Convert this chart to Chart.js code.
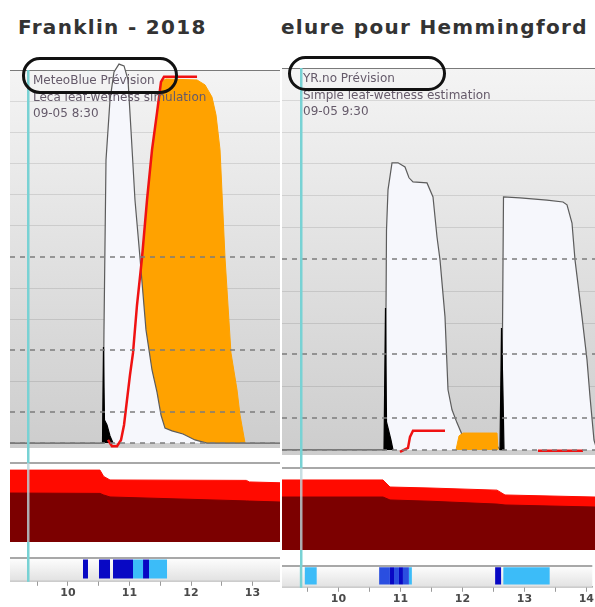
<!DOCTYPE html>
<html>
<head>
<meta charset="utf-8">
<script src="https://cdn.jsdelivr.net/npm/chart.js@4.4.0/dist/chart.umd.min.js"></script>
<style>
  html, body { margin: 0; padding: 0; background: #fff; width: 595px; height: 607px; overflow: hidden; }
  canvas { position: absolute; display: block; }
  .title { position: absolute; top: 15px; font: bold 20px "DejaVu Sans", sans-serif; letter-spacing: 1.3px; color: #333; white-space: pre; }
  .note { position: absolute; font: 12px/16.5px "DejaVu Sans", sans-serif; color: #655a6a; white-space: nowrap; }
  .ring { position: absolute; border: 3px solid #111; border-radius: 18px; box-sizing: border-box; }
</style>
</head>
<body>
<canvas id="frMain"></canvas>
<canvas id="frBand"></canvas>
<canvas id="frStrip"></canvas>
<canvas id="rtMain"></canvas>
<canvas id="rtBand"></canvas>
<canvas id="rtStrip"></canvas>

<div class="title" style="left:18px">Franklin - 2018</div>
<div class="title" style="left:281px">elure pour Hemmingford</div>

<div class="note" style="left:33px;top:72px">MeteoBlue Prévision<br>Leca leaf-wetness simulation<br>09-05 8:30</div>
<div class="note" style="left:303px;top:70px">YR.no Prévision<br>Simple leaf-wetness estimation<br>09-05 9:30</div>
<div class="ring" style="left:22px;top:57px;width:156px;height:37px"></div>
<div class="ring" style="left:288px;top:56px;width:158px;height:35px"></div>

<script>
// ---- axis ----
const dayTicks = [10, 11, 12, 13, 14];

// ---- Franklin (MeteoBlue) ----
const frRange = [9.057, 13.447];
const frNow = 9.354; // 09-05 8:30
const frWetT = [9.057, 10.569, 10.585, 10.618, 10.683, 10.748, 10.829, 10.911, 10.976, 11.024, 11.089, 11.171, 11.268, 11.366, 11.447, 11.512, 11.577, 11.691, 11.870, 12.065, 12.260, 13.447];
const frWetV = [0, 0, 3.64, 9.11, 11.04, 11.94, 12.19, 12.13, 11.68, 10.07, 7.82, 5.95, 3.64, 2.35, 1.64, 0.90, 0.48, 0.39, 0.29, 0.10, 0, 0];
const frSimT = [10.862, 10.911, 10.959, 11.008, 11.057, 11.122, 11.203, 11.285, 11.366, 11.447, 11.512, 11.593, 12.098, 12.228, 12.341, 12.407, 12.472, 12.553, 12.650, 12.748, 12.797, 12.878];
const frSimV = [0, 0.58, 1.38, 2.19, 2.90, 4.44, 5.95, 7.82, 9.43, 10.62, 11.62, 11.71, 11.68, 11.52, 11.13, 10.55, 9.43, 5.95, 2.90, 1.71, 0.90, 0];
const frRedT = [10.650, 10.715, 10.797, 10.862, 10.911, 10.959, 11.008, 11.057, 11.122, 11.203, 11.285, 11.366, 11.447, 11.512, 11.561, 12.098];
const frRedV = [0.10, -0.10, -0.10, 0.10, 0.58, 1.38, 2.19, 2.90, 4.44, 5.95, 7.82, 9.43, 10.62, 11.62, 11.78, 11.78];
const frRainT = [10.561, 10.577, 10.593, 10.634, 10.683, 10.732];
const frRainV = [0, 3.09, 0.74, 0.58, 0.23, 0];
const frBandT = [9.057, 10.52, 10.58, 10.683, 12.9, 12.95, 13.447];
const frBandRed = [91, 91, 83, 78.5, 78, 76, 75];
const frBandDark = [62, 61.5, 59.5, 57, 52, 51.8, 50.6];
const frStripStart = [10.244, 10.504, 10.732, 11.057, 11.220, 11.317];
const frStripEnd = [10.325, 10.683, 11.057, 11.220, 11.317, 11.610];
const frStripLevel = [3, 3, 3, 1, 3, 1];

// ---- Hemmingford (YR.no) ----
const rtRange = [9.088, 14.096];
const rtNow = 9.396; // 09-05 9:30
const rtWetT = [9.088, 10.728, 10.744, 10.760, 10.784, 10.848, 10.944, 11.056, 11.120, 11.184, 11.408, 11.504, 11.568, 11.616, 11.696, 11.744, 11.808, 11.888, 11.984, 12.096, 12.336, 12.544, 12.576, 12.600, 12.616, 12.632, 12.896, 13.328, 13.584, 13.648, 13.728, 13.776, 13.888, 13.968, 14.016, 14.080, 14.128];
const rtWetV = [0, 0, 1.89, 6.91, 8.17, 9.02, 9.02, 8.89, 8.55, 8.42, 8.39, 7.95, 6.69, 5.97, 4.18, 1.89, 1.26, 0.85, 0.41, 0.16, 0.09, 0.09, 0, 0, 3.77, 7.95, 7.92, 7.85, 7.79, 7.70, 7.13, 5.97, 4.18, 2.83, 1.67, 0.31, 0];
const rtSimT = [11.872, 11.920, 11.984, 12.528, 12.544];
const rtSimV = [0, 0.44, 0.53, 0.53, 0];
const rtRedT = [10.976, 11.104, 11.136, 11.184, 11.696, 12.0, 13.184, 13.904];
const rtRedV = [-0.06, 0.06, 0.41, 0.60, 0.60, null, -0.03, -0.03];
const rtRainT = [10.720, 10.744, 10.760, 10.784, 10.832, 10.864, 12.0, 12.576, 12.600, 12.624, 12.640];
const rtRainV = [0, 4.46, 0.88, 0.69, 0.31, 0, null, 0, 3.83, 1.73, 0];
const rtBandT = [9.088, 10.704, 10.816, 11.456, 12.528, 12.656, 14.096];
const rtBandRed = [85.4, 85.4, 76.8, 75.6, 73, 67.1, 64.6];
const rtBandDark = [64.6, 64.6, 61, 59.5, 56, 54.9, 52.4];
const rtStripStart = [9.456, 10.656, 10.830, 10.896, 10.976, 11.040, 11.136, 12.528, 12.660];
const rtStripEnd = [9.648, 10.830, 10.896, 10.976, 11.040, 11.136, 11.184, 12.624, 13.408];
const rtStripLevel = [1, 2, 3, 2, 3, 2, 1, 3, 1];

const rainColors = { 1: '#3cbcf8', 2: '#2a4ee0', 3: '#0808c4' };

Chart.defaults.font.family = '"DejaVu Sans", sans-serif';

function pts(ts, vs) {
  return ts.map((t, i) => ({ x: t, y: vs[i] }));
}

function place(id, left, top, w, h) {
  const c = document.getElementById(id);
  c.width = w; c.height = h;
  c.style.left = left + 'px';
  c.style.top = top + 'px';
  return c;
}

function nowLine(ctx, chart, now, y0, y1, color) {
  const x = chart.scales.x.getPixelForValue(now);
  ctx.save();
  ctx.strokeStyle = color;
  ctx.lineWidth = 2.5;
  ctx.beginPath(); ctx.moveTo(x, y0); ctx.lineTo(x, y1); ctx.stroke();
  ctx.restore();
}

function baseOpts(range, pad) {
  return {
    responsive: false, animation: false, devicePixelRatio: 1,
    layout: { padding: pad, autoPadding: false },
    plugins: { legend: { display: false }, tooltip: { enabled: false } },
    elements: { point: { radius: 0 }, line: { tension: 0 } },
    scales: { x: { type: 'linear', min: range[0], max: range[1], display: false } }
  };
}

// grey gradient plot with grid, dashed levels and "now" marker
const plotDeco = {
  id: 'plotDeco',
  beforeDatasetsDraw(chart, args, o) {
    const { ctx, chartArea: a, scales: { y } } = chart;
    const g = ctx.createLinearGradient(0, a.top, 0, a.bottom);
    g.addColorStop(0, '#f4f4f4');
    g.addColorStop(1, '#cdcdcd');
    ctx.save();
    ctx.fillStyle = g;
    ctx.fillRect(a.left, a.top, a.width, a.height);
    ctx.strokeStyle = 'rgba(0,0,0,0.10)';
    ctx.lineWidth = 1;
    [2, 4, 5, 7, 8, 9, 10, 11].forEach(v => {
      const py = Math.round(y.getPixelForValue(v)) + 0.5;
      ctx.beginPath(); ctx.moveTo(a.left, py); ctx.lineTo(a.right, py); ctx.stroke();
    });
    ctx.strokeStyle = '#7a7a7a';
    const top = Math.round(y.getPixelForValue(12)) + 0.5;
    ctx.beginPath(); ctx.moveTo(a.left, top); ctx.lineTo(a.right, top); ctx.stroke();
    ctx.restore();
  },
  afterDatasetsDraw(chart, args, o) {
    const { ctx, chartArea: a, scales: { y } } = chart;
    ctx.save();
    ctx.strokeStyle = '#7c7c7c';
    ctx.lineWidth = 1.5;
    ctx.setLineDash([5, 5]);
    [0, 1, 3, 6].forEach(v => {
      const py = Math.round(y.getPixelForValue(v));
      ctx.beginPath(); ctx.moveTo(a.left, py); ctx.lineTo(a.right, py); ctx.stroke();
    });
    ctx.restore();
    nowLine(ctx, chart, o.now, a.top, chart.height, '#78d2d4');
  }
};

const bandDeco = {
  id: 'bandDeco',
  beforeDatasetsDraw(chart) {
    const { ctx, chartArea: a } = chart;
    ctx.save();
    ctx.strokeStyle = '#a8a8a8';
    ctx.lineWidth = 2;
    ctx.beginPath(); ctx.moveTo(a.left, a.top); ctx.lineTo(a.right, a.top); ctx.stroke();
    ctx.restore();
  },
  afterDatasetsDraw(chart, args, o) {
    const { ctx, chartArea: a } = chart;
    nowLine(ctx, chart, o.now, 0, a.top, '#78d2d4');
    nowLine(ctx, chart, o.now, a.top, a.bottom, 'rgba(185,215,220,0.8)');
    nowLine(ctx, chart, o.now, a.bottom, chart.height, '#78d2d4');
  }
};

const stripDeco = {
  id: 'stripDeco',
  beforeDatasetsDraw(chart) {
    const { ctx, chartArea: a } = chart;
    const g = ctx.createLinearGradient(0, a.top, 0, a.bottom);
    g.addColorStop(0, '#ffffff');
    g.addColorStop(1, '#e2e2e2');
    ctx.save();
    ctx.fillStyle = g;
    ctx.fillRect(a.left, a.top, a.width, a.height);
    ctx.strokeStyle = '#a8a8a8';
    ctx.lineWidth = 2;
    ctx.beginPath(); ctx.moveTo(a.left, a.top + 1); ctx.lineTo(a.right, a.top + 1); ctx.stroke();
    ctx.restore();
  },
  afterDatasetsDraw(chart, args, o) {
    nowLine(chart.ctx, chart, o.now, 0, chart.chartArea.bottom + 1, '#78d2d4');
  }
};

function mainChart(id, box, range, now, d, wetOnTop) {
  const c = place(id, box[0], box[1], box[2], box[3]);
  const clip = { left: 0, top: false, right: 0, bottom: 0 };
  const opts = baseOpts(range, { top: box[4] });
  opts.scales.y = { min: -0.16, max: 12, display: false };
  opts.plugins.plotDeco = { now };
  return new Chart(c, {
    type: 'line',
    data: { datasets: [
      { data: pts(d.redT, d.redV), borderColor: '#f01212', borderWidth: 2.5, fill: false, spanGaps: false, clip, order: 0 },
      { data: pts(d.rainT, d.rainV), borderColor: '#000', backgroundColor: '#000', borderWidth: 1.2, fill: 'origin', spanGaps: false, clip, order: 1 },
      { data: pts(d.wetT, d.wetV), borderColor: '#5c5c5c', backgroundColor: '#f6f7fc', borderWidth: 1.2, fill: 'origin', clip, order: wetOnTop ? 2 : 3 },
      { data: pts(d.simT, d.simV), borderColor: '#ffa200', backgroundColor: '#ffa200', borderWidth: 1, fill: 'origin', clip, order: wetOnTop ? 3 : 2 }
    ] },
    options: opts,
    plugins: [plotDeco]
  });
}

function bandChart(id, box, range, now, t, red, dark) {
  const c = place(id, box[0], box[1], box[2], box[3]);
  const opts = baseOpts(range, { top: box[4], bottom: box[5] });
  opts.scales.y = { min: 0, max: 100, display: false };
  opts.plugins.bandDeco = { now };
  return new Chart(c, {
    type: 'line',
    data: { datasets: [
      { data: pts(t, dark), borderColor: '#7c0000', backgroundColor: '#7c0000', borderWidth: 1, fill: 'origin', order: 0 },
      { data: pts(t, red), borderColor: '#ff0a00', backgroundColor: '#ff0a00', borderWidth: 1, fill: 'origin', order: 1 }
    ] },
    options: opts,
    plugins: [bandDeco]
  });
}

function stripChart(id, box, range, now, starts, ends, levels) {
  const c = place(id, box[0], box[1], box[2], box[3]);
  const opts = baseOpts(range, { bottom: box[4] });
  opts.indexAxis = 'y';
  opts.scales.x = {
    type: 'linear', min: range[0], max: range[1],
    ticks: {
      stepSize: 0.5, includeBounds: false, autoSkip: false, maxRotation: 0, padding: 1,
      color: '#4a4a4a', font: { size: 11, weight: 'bold' },
      callback: v => dayTicks.includes(v) ? String(v) : ''
    },
    grid: { drawOnChartArea: false, tickLength: 5, color: '#9a9a9a' },
    border: { color: '#9a9a9a', width: 1.5 }
  };
  opts.scales.y = { display: false };
  opts.plugins.stripDeco = { now };
  return new Chart(c, {
    type: 'bar',
    data: {
      labels: ['pluie'],
      datasets: starts.map((s, i) => ({
        data: [[s, ends[i]]],
        backgroundColor: rainColors[levels[i]],
        borderWidth: 0, grouped: false, barPercentage: 0.8, categoryPercentage: 1
      }))
    },
    options: opts,
    plugins: [stripDeco]
  });
}

// Franklin panel
mainChart('frMain', [10, 50, 270, 398, 20], frRange, frNow,
  { wetT: frWetT, wetV: frWetV, simT: frSimT, simV: frSimV, redT: frRedT, redV: frRedV, rainT: frRainT, rainV: frRainV }, true);
bandChart('frBand', [10, 448, 270, 109, 15, 15], frRange, frNow, frBandT, frBandRed, frBandDark);
stripChart('frStrip', [10, 557, 270, 50, 6], frRange, frNow, frStripStart, frStripEnd, frStripLevel);

// Hemmingford panel
mainChart('rtMain', [282, 48, 313, 407, 20], rtRange, rtNow,
  { wetT: rtWetT, wetV: rtWetV, simT: rtSimT, simV: rtSimV, redT: rtRedT, redV: rtRedV, rainT: rtRainT, rainV: rtRainV }, false);
bandChart('rtBand', [282, 455, 313, 110, 13, 15], rtRange, rtNow, rtBandT, rtBandRed, rtBandDark);
stripChart('rtStrip', [282, 565, 313, 42, 0], rtRange, rtNow, rtStripStart, rtStripEnd, rtStripLevel);
</script>
</body>
</html>
